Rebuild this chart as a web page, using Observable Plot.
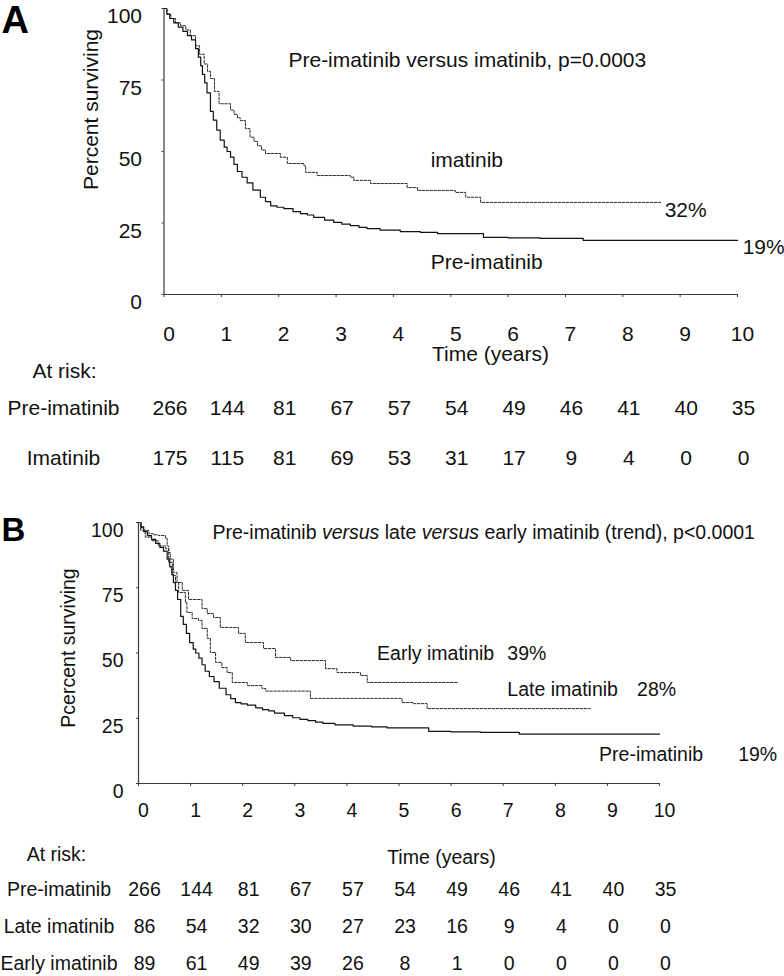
<!DOCTYPE html>
<html><head><meta charset="utf-8">
<script src="https://cdn.jsdelivr.net/npm/d3@7"></script>
<script src="https://cdn.jsdelivr.net/npm/@observablehq/plot@0.6"></script>
<style>
body{margin:0;background:#fff;}
#chart{width:784px;background:#fff;}
#chart svg{display:block;}
</style></head><body><div id="chart"></div>
<script>
// ---------- data ----------
const years = [0,1,2,3,4,5,6,7,8,9,10];
const yTicks = [0,25,50,75,100];

// Pre-imatinib Kaplan-Meier curve (same cohort in A and B)
const preT = [0,0.05,0.1,0.17,0.25,0.33,0.41,0.48,0.55,0.6,0.64,0.67,0.71,0.75,0.81,0.86,0.92,0.98,1.05,1.1,1.16,1.22,1.28,1.36,1.45,1.55,1.68,1.77,1.86,1.97,2.09,2.25,2.38,2.5,2.61,2.8,2.96,3.1,3.25,3.4,3.54,3.77,4.12,4.47,4.77,5.57,6.0,6.56,7.31,10];
const preS = [100,98,96.5,95,93.5,92,90.5,89,86,83,80,77,74,70.5,64,61,57.5,54,51.5,50,48,45.5,43,41,39,36.5,34,32.5,31,30.5,30,29,28.3,27.8,27,26,25.2,24.6,24.1,23.5,23,22.5,22,21.7,21.3,20,19.8,19.6,18.9,18.9];

// Imatinib (panel A)
const imaT = [0,0.05,0.12,0.2,0.29,0.38,0.46,0.55,0.62,0.7,0.76,0.81,0.88,0.96,1.16,1.22,1.28,1.33,1.42,1.5,1.57,1.63,1.7,1.77,2.03,2.15,2.44,2.47,2.67,3.25,3.31,3.6,4.24,4.42,5.08,5.26,5.52,8.66];
const imaS = [100,98,96.5,95,94,92.5,90.5,87,84,80.6,78,75.5,71,66.7,64.5,63,61.8,60.8,58,55,53.5,52,50.5,49.3,48,45.8,45,42.7,41.6,41,39.9,38.8,37.4,36.4,35.7,34,32.2,32.2];

// Late imatinib (panel B)
const lateT = [0,0.04,0.13,0.25,0.38,0.52,0.58,0.65,0.71,0.77,0.9,0.93,1.03,1.15,1.22,1.32,1.38,1.48,1.6,1.7,1.8,2.09,2.37,2.44,3.3,5.06,5.28,5.54,8.67];
const lateS = [100,97,94.4,93,91,90,84.7,79.7,77,73.2,69.3,65.5,63.2,62.5,59.4,55.6,50.2,46.4,44.4,42.5,38.7,37.5,36.4,35.4,32.6,31,30.6,28.7,28.7];

// Early imatinib (panel B)
const earlyT = [0,0.05,0.1,0.2,0.29,0.38,0.52,0.55,0.58,0.61,0.67,0.74,0.84,0.96,1.22,1.32,1.44,1.57,1.92,2.05,2.4,2.63,2.92,3.59,3.81,4.26,4.39,6.12];
const earlyS = [100,98.5,97,95.7,95.3,95,93.9,91,88.5,86,80.8,77,74,70.5,67,65.1,63.6,59.8,57.5,54,51.7,48.3,47.1,44,42.5,41.4,38.7,38.7];

// numbers at risk
const rowsA = ["Pre-imatinib","Imatinib"];
const riskPre = [266,144,81,67,57,54,49,46,41,40,35];
const riskIma = [175,115,81,69,53,31,17,9,4,0,0];
const rowsB = ["Pre-imatinib","Late imatinib","Early imatinib"];
const riskLate = [86,54,32,30,27,23,16,9,4,0,0];
const riskEarly = [89,61,49,39,26,8,1,0,0,0,0];

// text annotations (data coordinates: years, percent)
const titleA = "Pre-imatinib versus imatinib, p=0.0003";
const titleB = "Pre-imatinib versus late versus early imatinib (trend), p<0.0001";
const annA = [
  {t:2.17, s:81.8, label:titleA},
  {t:4.65, s:46.9, label:"imatinib"},
  {t:8.73, s:29.4, label:"32%"},
  {t:4.65, s:11.2, label:"Pre-imatinib"},
  {t:10.09, s:16.4, label:"19%"}
];
const annB = [
  {t:1.42, s:96.2, label:titleB},
  {t:4.58, s:49.8, label:"Early imatinib"},
  {t:7.08, s:49.8, label:"39%"},
  {t:7.08, s:36, label:"Late imatinib"},
  {t:9.57, s:36, label:"28%"},
  {t:8.84, s:11.1, label:"Pre-imatinib"},
  {t:11.51, s:11.1, label:"19%"}
];

// ---------- helpers ----------
const pts = (T, S) => T.map((t, i) => ({t, s: S[i]}));
const table = (rows, values) => rows.flatMap((row, i) => years.map((t, j) => ({row, t, n: values[i][j]})));
const FONT = "'Liberation Sans', Arial, Helvetica, sans-serif";
const INK = "#111";
const AX = "#3a3a3a";

function kmPlot({height, mt, mb, ml, mr, fs, tickPad, yPad, lines, ann, yLabel, yDx, yDy, letter, letterSize, letterDy}) {
  return Plot.plot({
    width: 784, height, marginTop: mt, marginBottom: mb, marginLeft: ml, marginRight: mr,
    x: {domain: [0, 10]}, y: {domain: [0, 100]},
    style: {fontFamily: FONT, fontSize: fs + "px", color: INK, background: "#fff", overflow: "visible"},
    marks: [
      Plot.ruleY([0], {stroke: AX, strokeWidth: 1.2}),
      Plot.ruleX([0], {stroke: AX, strokeWidth: 1.2}),
      Plot.axisX({ticks: years, tickSize: 3, stroke: AX, fill: "none", label: null}),
      Plot.axisX({ticks: years, tickSize: 3, tickPadding: tickPad, dx: 5, stroke: "none", fill: INK, label: null, fontSize: fs, tickFormat: d => String(d)}),
      Plot.axisY({ticks: yTicks, tickSize: 2, stroke: AX, fill: "none", label: null}),
      Plot.axisY({ticks: yTicks, tickSize: 2, tickPadding: yPad, dy: 8, stroke: "none", fill: INK, label: null, fontSize: fs, tickFormat: d => String(d)}),
      ...lines.map(l => Plot.line(l.data, {x: "t", y: "s", curve: "step-after", stroke: l.dash ? "#2a2a2a" : "#111", strokeWidth: l.dash ? 1 : 1.2, strokeDasharray: l.dash ? "2.5,1.5" : null})),
      Plot.text(ann, {x: "t", y: "s", text: "label", textAnchor: "start", lineAnchor: "middle", fill: INK}),
      Plot.text([yLabel], {frameAnchor: "left", rotate: -90, dx: yDx, dy: yDy, textAnchor: "middle", lineAnchor: "middle", fill: INK}),
      Plot.text([letter], {frameAnchor: "top-left", dx: -ml + 1, dy: letterDy, fontWeight: "bold", fontSize: letterSize, textAnchor: "start", lineAnchor: "bottom", fill: "#000"})
    ]
  });
}

function riskPlot({height, ml, mr, fs, rows, values, yRange, rowDx, timeDx, timeDy, atDx, atDy}) {
  return Plot.plot({
    width: 784, height, marginTop: 0, marginBottom: 0, marginLeft: ml, marginRight: mr,
    x: {domain: [0, 10], axis: null},
    y: {type: "point", domain: rows, range: yRange, padding: 0, axis: null},
    style: {fontFamily: FONT, fontSize: fs + "px", color: INK, background: "#fff", overflow: "visible"},
    marks: [
      Plot.text(table(rows, values), {x: "t", y: "row", text: "n", dx: 6, fill: INK}),
      Plot.text(rows, {y: d => d, frameAnchor: "left", dx: rowDx, textAnchor: "middle", lineAnchor: "middle", fill: INK}),
      Plot.text(["Time (years)"], {frameAnchor: "top", dx: timeDx, dy: timeDy, textAnchor: "middle", lineAnchor: "middle", fill: INK}),
      Plot.text(["At risk:"], {frameAnchor: "top-left", dx: atDx, dy: atDy, textAnchor: "middle", lineAnchor: "middle", fill: INK})
    ]
  });
}

const root = document.getElementById("chart");

// Panel A
root.append(kmPlot({
  height: 345, mt: 8, mb: 51, ml: 163.5, mr: 47, fs: 21, tickPad: 28.5, yPad: 20,
  lines: [{data: pts(preT, preS), dash: false}, {data: pts(imaT, imaS), dash: true}],
  ann: annA, yLabel: "Percent surviving", yDx: -72.5, yDy: -42,
  letter: "A", letterSize: 38, letterDy: 24
}));
root.append(riskPlot({
  height: 145, ml: 163.5, mr: 47, fs: 21, rows: rowsA, values: [riskPre, riskIma],
  yRange: [63, 113], rowDx: -100.5, timeDx: 39.75, timeDy: 9, atDx: -99.5, atDy: 26
}));

// Panel B
const plotB = kmPlot({
  height: 350, mt: 32, mb: 57, ml: 138, mr: 125, fs: 19.5, tickPad: 17, yPad: 13,
  lines: [{data: pts(preT, preS), dash: false}, {data: pts(lateT, lateS), dash: true}, {data: pts(earlyT, earlyS), dash: true}],
  ann: annB, yLabel: "Pcercent surviving", yDx: -70, yDy: -5,
  letter: "B", letterSize: 33, letterDy: 18
});
root.append(plotB);
root.append(riskPlot({
  height: 136, ml: 138, mr: 125, fs: 19.5, rows: rowsB, values: [riskPre, riskLate, riskEarly],
  yRange: [48, 123], rowDx: -79.5, timeDx: 42.5, timeDy: 17, atDx: -82, atDy: 14
}));

// italic "versus" in panel B title
d3.select(plotB).selectAll("text").filter(function() { return this.textContent === titleB; }).each(function() {
  const el = d3.select(this);
  el.text(null);
  const parts = [["Pre-imatinib ", false], ["versus", true], [" late ", false], ["versus", true], [" early imatinib (trend), p<0.0001", false]];
  el.style("white-space", "pre");
  parts.forEach(([s, it]) => el.append("tspan").text(s).style("font-style", it ? "italic" : null));
});
</script></body></html>
